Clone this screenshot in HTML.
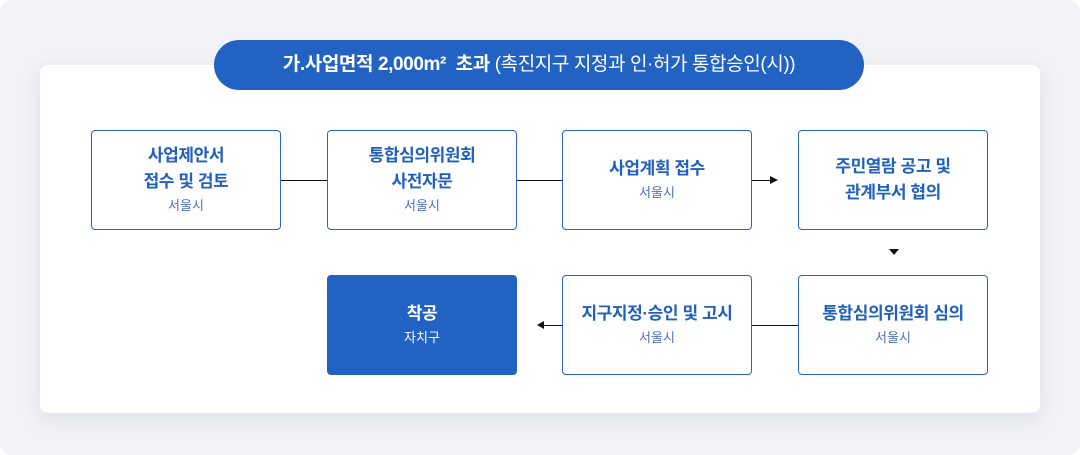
<!DOCTYPE html>
<html><head><meta charset="utf-8"><style>
*{margin:0;padding:0;box-sizing:border-box}
body{width:1080px;height:455px;background:#fff;font-family:"Liberation Sans","Noto Sans CJK KR",sans-serif;position:relative;overflow:hidden}
.bg{position:absolute;left:0;top:0;width:1080px;height:455px;background:#f2f3f7;border-radius:12px}
.card{position:absolute;left:40px;top:65px;width:1000px;height:348px;background:#fff;border-radius:8px;box-shadow:0 6px 20px rgba(180,185,205,.35)}
.pill{position:absolute;left:214px;top:40px;width:650px;height:50px;background:#2262c2;border-radius:25px;color:#fff;font-size:19px;font-weight:bold;text-align:center;line-height:50px;letter-spacing:-0.4px}
.pill span{font-weight:normal}
.box{position:absolute;width:190px;height:100px;border:1px solid #2d63c4;border-radius:4px;background:#fff;display:flex;flex-direction:column;justify-content:center;align-items:center;text-align:center}
.t{color:#2160bd;font-size:17px;font-weight:bold;line-height:26px;letter-spacing:-0.4px}
.s{color:#4d71c0;font-size:13px;line-height:22px}
.dark{background:#2262c2;border-color:#2262c2}
.dark .t,.dark .s{color:#fff}
.l{position:absolute;height:1px;background:#111}
</style></head><body>
<div class="bg"></div>
<div class="card"></div>
<div class="pill">가.사업면적 2,000m² &nbsp;초과 <span>(촉진지구 지정과 인·허가 통합승인(시))</span></div>
<div class="l" style="left:281px;top:180px;width:46px"></div>
<div class="l" style="left:517px;top:180px;width:45px"></div>
<div class="l" style="left:751px;top:180px;width:20px"></div>
<div style="position:absolute;left:770px;top:176px;border-left:8px solid #111;border-top:4px solid transparent;border-bottom:4px solid transparent"></div>
<div style="position:absolute;left:889px;top:249px;border-top:6px solid #111;border-left:5px solid transparent;border-right:5px solid transparent"></div>
<div class="l" style="left:751px;top:325px;width:47px"></div>
<div class="l" style="left:542px;top:325px;width:20px"></div>
<div style="position:absolute;left:537px;top:321px;border-right:7px solid #111;border-top:4px solid transparent;border-bottom:4px solid transparent"></div>
<div class="box" style="left:91px;top:130px"><div class="t">사업제안서<br>접수 및 검토</div><div class="s">서울시</div></div>
<div class="box" style="left:327px;top:130px"><div class="t">통합심의위원회<br>사전자문</div><div class="s">서울시</div></div>
<div class="box" style="left:562px;top:130px"><div class="t">사업계획 접수</div><div class="s">서울시</div></div>
<div class="box" style="left:798px;top:130px"><div class="t">주민열람 공고 및<br>관계부서 협의</div></div>
<div class="box dark" style="left:327px;top:275px"><div class="t">착공</div><div class="s">자치구</div></div>
<div class="box" style="left:562px;top:275px"><div class="t">지구지정·승인 및 고시</div><div class="s">서울시</div></div>
<div class="box" style="left:798px;top:275px"><div class="t">통합심의위원회 심의</div><div class="s">서울시</div></div>
</body></html>
